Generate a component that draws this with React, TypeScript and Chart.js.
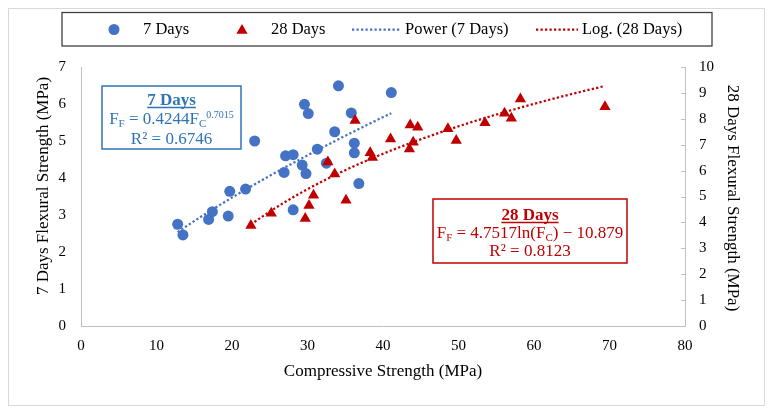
import { useEffect, useRef } from "react";
import { Chart, registerables } from "chart.js";

Chart.register(...registerables);

const FONT = '"Liberation Serif", "Times New Roman", serif';

// 7 days: compressive strength (MPa) vs flexural strength (MPa)
const compressive7Days = [12.8, 13.5, 16.9, 17.4, 19.5, 19.7, 21.8, 23.0, 26.9, 27.1, 28.1, 28.1, 29.3, 29.6, 29.8, 30.1, 31.3, 32.5, 33.6, 34.1, 35.8, 36.2, 36.2, 36.8, 41.1];
const flexural7Days = [2.75, 2.46, 2.88, 3.09, 2.97, 3.64, 3.7, 5.0, 4.15, 4.6, 4.63, 3.14, 4.35, 5.99, 4.12, 5.74, 4.78, 4.4, 5.25, 6.49, 5.76, 4.94, 4.68, 3.85, 6.31];

// 28 days
const compressive28Days = [22.5, 25.2, 29.7, 30.2, 30.8, 32.7, 33.6, 35.1, 36.3, 38.3, 38.6, 41.0, 43.5, 43.6, 44.0, 44.6, 48.6, 49.7, 53.5, 56.1, 57.0, 58.2, 69.4];
const flexural28Days = [3.88, 4.35, 4.15, 4.65, 5.05, 6.33, 5.87, 4.86, 7.93, 6.69, 6.51, 7.22, 6.83, 7.76, 7.09, 7.67, 7.62, 7.16, 7.85, 8.21, 8.02, 8.76, 8.47];

// Trendline equations printed on the chart
const powerFit7 = { coef: 0.4244, exp: 0.7015 };
const logFit28 = { coef: 4.7517, constant: -10.879 };

const legendLabels = ["7 Days", "28 Days", "Power (7 Days)", "Log. (28 Days)"];

const BLUE = "#4472C4";
const BLUE_TEXT = "#2E75B6";
const RED = "#C00000";
const AXIS = "#BFBFBF";
const TEXT = "#000000";

function trendPoints(xs: number[], f: (x: number) => number, n = 80) {
  const lo = Math.min(...xs);
  const hi = Math.max(...xs);
  const pts: { x: number; y: number }[] = [];
  for (let i = 0; i <= n; i++) {
    const x = lo + ((hi - lo) * i) / n;
    pts.push({ x, y: f(x) });
  }
  return pts;
}

type Seg = { t: string; s: number; bold?: boolean; dy?: number };

function drawRich(ctx: CanvasRenderingContext2D, segs: Seg[], cx: number, baseline: number, color: string, underline = false) {
  const widths = segs.map((sg) => {
    ctx.font = `${sg.bold ? "bold " : ""}${sg.s}px ${FONT}`;
    return ctx.measureText(sg.t).width;
  });
  const total = widths.reduce((a, b) => a + b, 0);
  let x = cx - total / 2;
  ctx.fillStyle = color;
  ctx.textAlign = "left";
  ctx.textBaseline = "alphabetic";
  segs.forEach((sg, i) => {
    ctx.font = `${sg.bold ? "bold " : ""}${sg.s}px ${FONT}`;
    ctx.fillText(sg.t, x, baseline + (sg.dy || 0));
    x += widths[i];
  });
  if (underline) {
    ctx.strokeStyle = color;
    ctx.lineWidth = 1.3;
    ctx.beginPath();
    ctx.moveTo(cx - total / 2, baseline + 2.5);
    ctx.lineTo(cx + total / 2, baseline + 2.5);
    ctx.stroke();
  }
}

function triangle(ctx: CanvasRenderingContext2D, x: number, y: number, r: number) {
  ctx.beginPath();
  for (let k = 0; k < 3; k++) {
    const a = (k * 2 * Math.PI) / 3;
    const px = x + Math.sin(a) * r;
    const py = y - Math.cos(a) * r;
    if (k === 0) ctx.moveTo(px, py);
    else ctx.lineTo(px, py);
  }
  ctx.closePath();
  ctx.fill();
}

const decorPlugin = {
  id: "decor",
  beforeDraw(chart: any) {
    const ctx: CanvasRenderingContext2D = chart.ctx;
    ctx.save();
    ctx.fillStyle = "#ffffff";
    ctx.fillRect(0, 0, chart.width, chart.height);
    ctx.strokeStyle = "#D9D9D9";
    ctx.lineWidth = 1;
    ctx.strokeRect(8.5, 8.5, 756, 397);
    ctx.restore();
  },
  afterDraw(chart: any) {
    const ctx: CanvasRenderingContext2D = chart.ctx;
    const area = chart.chartArea;
    const y2 = chart.scales.y2;
    ctx.save();

    // inward tick marks on the secondary axis
    ctx.strokeStyle = AXIS;
    ctx.lineWidth = 1;
    y2.ticks.forEach((t: any) => {
      const py = Math.round(y2.getPixelForValue(t.value)) + 0.5;
      ctx.beginPath();
      ctx.moveTo(area.right - 4, py);
      ctx.lineTo(area.right, py);
      ctx.stroke();
    });

    // axis titles
    ctx.fillStyle = TEXT;
    ctx.font = `17px ${FONT}`;
    ctx.textAlign = "center";
    ctx.textBaseline = "middle";
    ctx.fillText("Compressive Strength (MPa)", (area.left + area.right) / 2, 372);
    ctx.save();
    ctx.translate(44, 186);
    ctx.rotate(-Math.PI / 2);
    ctx.fillText("7 Days Flexural Strength (MPa)", 0, 0);
    ctx.restore();
    ctx.save();
    ctx.translate(732, 198);
    ctx.rotate(Math.PI / 2);
    ctx.fillText("28 Days Flexural Strength (MPa)", 0, 0);
    ctx.restore();

    // legend
    ctx.strokeStyle = "#404040";
    ctx.lineWidth = 1.3;
    ctx.strokeRect(62, 12.5, 650, 33.5);
    const ly = 29.5;
    ctx.fillStyle = BLUE;
    ctx.beginPath();
    ctx.arc(114, ly, 5.5, 0, Math.PI * 2);
    ctx.fill();
    ctx.fillStyle = RED;
    triangle(ctx, 242, ly + 1, 6.5);
    ctx.lineWidth = 2.25;
    ctx.setLineDash([2.25, 2.25]);
    ctx.strokeStyle = BLUE;
    ctx.beginPath();
    ctx.moveTo(352, ly);
    ctx.lineTo(401, ly);
    ctx.stroke();
    ctx.strokeStyle = RED;
    ctx.beginPath();
    ctx.moveTo(536, ly);
    ctx.lineTo(578, ly);
    ctx.stroke();
    ctx.setLineDash([]);
    ctx.fillStyle = TEXT;
    ctx.font = `16.5px ${FONT}`;
    ctx.textAlign = "left";
    ctx.textBaseline = "middle";
    ctx.fillText(legendLabels[0], 143, ly);
    ctx.fillText(legendLabels[1], 271, ly);
    ctx.fillText(legendLabels[2], 405, ly);
    ctx.fillText(legendLabels[3], 582, ly);

    // 7 days equation box
    ctx.fillStyle = "#ffffff";
    ctx.fillRect(102, 86, 139, 63);
    ctx.strokeStyle = BLUE_TEXT;
    ctx.lineWidth = 1.5;
    ctx.strokeRect(102, 86, 139, 63);
    const bcx = 171.5;
    drawRich(ctx, [{ t: "7 Days", s: 17, bold: true }], bcx, 105, BLUE_TEXT, true);
    drawRich(
      ctx,
      [
        { t: "F", s: 17 },
        { t: "F", s: 11, dy: 3 },
        { t: ` = ${powerFit7.coef}F`, s: 17 },
        { t: "C", s: 11, dy: 3 },
        { t: `${powerFit7.exp}`, s: 10, dy: -6 },
      ],
      bcx,
      124,
      BLUE_TEXT
    );
    drawRich(ctx, [{ t: "R² = 0.6746", s: 17 }], bcx, 144, BLUE_TEXT);

    // 28 days equation box
    ctx.fillStyle = "#ffffff";
    ctx.fillRect(433, 199, 194, 64);
    ctx.strokeStyle = RED;
    ctx.lineWidth = 1.5;
    ctx.strokeRect(433, 199, 194, 64);
    const rcx = 530;
    drawRich(ctx, [{ t: "28 Days", s: 17, bold: true }], rcx, 220, RED, true);
    drawRich(
      ctx,
      [
        { t: "F", s: 17 },
        { t: "F", s: 11, dy: 3 },
        { t: ` = ${logFit28.coef}ln(F`, s: 17 },
        { t: "C", s: 11, dy: 3 },
        { t: `) − ${Math.abs(logFit28.constant)}`, s: 17 },
      ],
      rcx,
      238,
      RED
    );
    drawRich(ctx, [{ t: "R² = 0.8123", s: 17 }], rcx, 256, RED);

    ctx.restore();
  },
};

export default function App() {
  const ref = useRef<HTMLCanvasElement | null>(null);

  useEffect(() => {
    document.body.style.margin = "0";
    const canvas = ref.current;
    if (!canvas) return;

    const pts7 = compressive7Days.map((x, i) => ({ x, y: flexural7Days[i] }));
    const pts28 = compressive28Days.map((x, i) => ({ x, y: flexural28Days[i] }));
    const power = trendPoints(compressive7Days, (x) => powerFit7.coef * Math.pow(x, powerFit7.exp));
    const logLine = trendPoints(compressive28Days, (x) => logFit28.coef * Math.log(x) + logFit28.constant);

    const tickFont = { family: FONT, size: 15 };

    const chart = new Chart(canvas, {
      type: "scatter",
      data: {
        datasets: [
          {
            label: legendLabels[2],
            data: power,
            showLine: true,
            yAxisID: "y",
            borderColor: BLUE,
            borderWidth: 2.25,
            borderDash: [2.25, 2.25],
            pointRadius: 0,
            fill: false,
            order: 0,
          },
          {
            label: legendLabels[3],
            data: logLine,
            showLine: true,
            yAxisID: "y2",
            borderColor: RED,
            borderWidth: 2.25,
            borderDash: [2.25, 2.25],
            pointRadius: 0,
            fill: false,
            order: 1,
          },
          {
            label: legendLabels[1],
            data: pts28,
            yAxisID: "y2",
            pointStyle: "triangle",
            pointRadius: 6.5,
            backgroundColor: RED,
            borderColor: RED,
            borderWidth: 0,
            order: 2,
          },
          {
            label: legendLabels[0],
            data: pts7,
            yAxisID: "y",
            pointStyle: "circle",
            pointRadius: 5.5,
            backgroundColor: BLUE,
            borderColor: BLUE,
            borderWidth: 0,
            order: 3,
          },
        ],
      },
      options: {
        responsive: false,
        animation: false,
        devicePixelRatio: 1,
        layout: { padding: { top: 67, left: 0, right: 0, bottom: 0 } },
        plugins: {
          legend: { display: false },
          tooltip: { enabled: false },
        },
        scales: {
          x: {
            type: "linear",
            position: "bottom",
            min: 0,
            max: 80,
            ticks: { stepSize: 10, font: tickFont, color: TEXT, padding: 11 },
            grid: { display: false, drawTicks: false },
            border: { display: true, color: AXIS, width: 1 },
            afterFit: (s: any) => {
              s.height = 85;
            },
          },
          y: {
            type: "linear",
            position: "left",
            min: 0,
            max: 7,
            ticks: { stepSize: 1, font: tickFont, color: TEXT, padding: 15 },
            grid: { display: false, drawTicks: false },
            border: { display: true, color: AXIS, width: 1 },
            afterFit: (s: any) => {
              s.width = 81;
            },
          },
          y2: {
            type: "linear",
            position: "right",
            min: 0,
            max: 10,
            ticks: { stepSize: 1, font: tickFont, color: TEXT, padding: 14 },
            grid: { display: false, drawTicks: false },
            border: { display: true, color: AXIS, width: 1 },
            afterFit: (s: any) => {
              s.width = 87;
            },
          },
        },
      } as any,
      plugins: [decorPlugin],
    });

    return () => chart.destroy();
  }, []);

  return (
    <div style={{ width: 772, height: 411 }}>
      <canvas ref={ref} width={772} height={411} style={{ display: "block" }} />
    </div>
  );
}
